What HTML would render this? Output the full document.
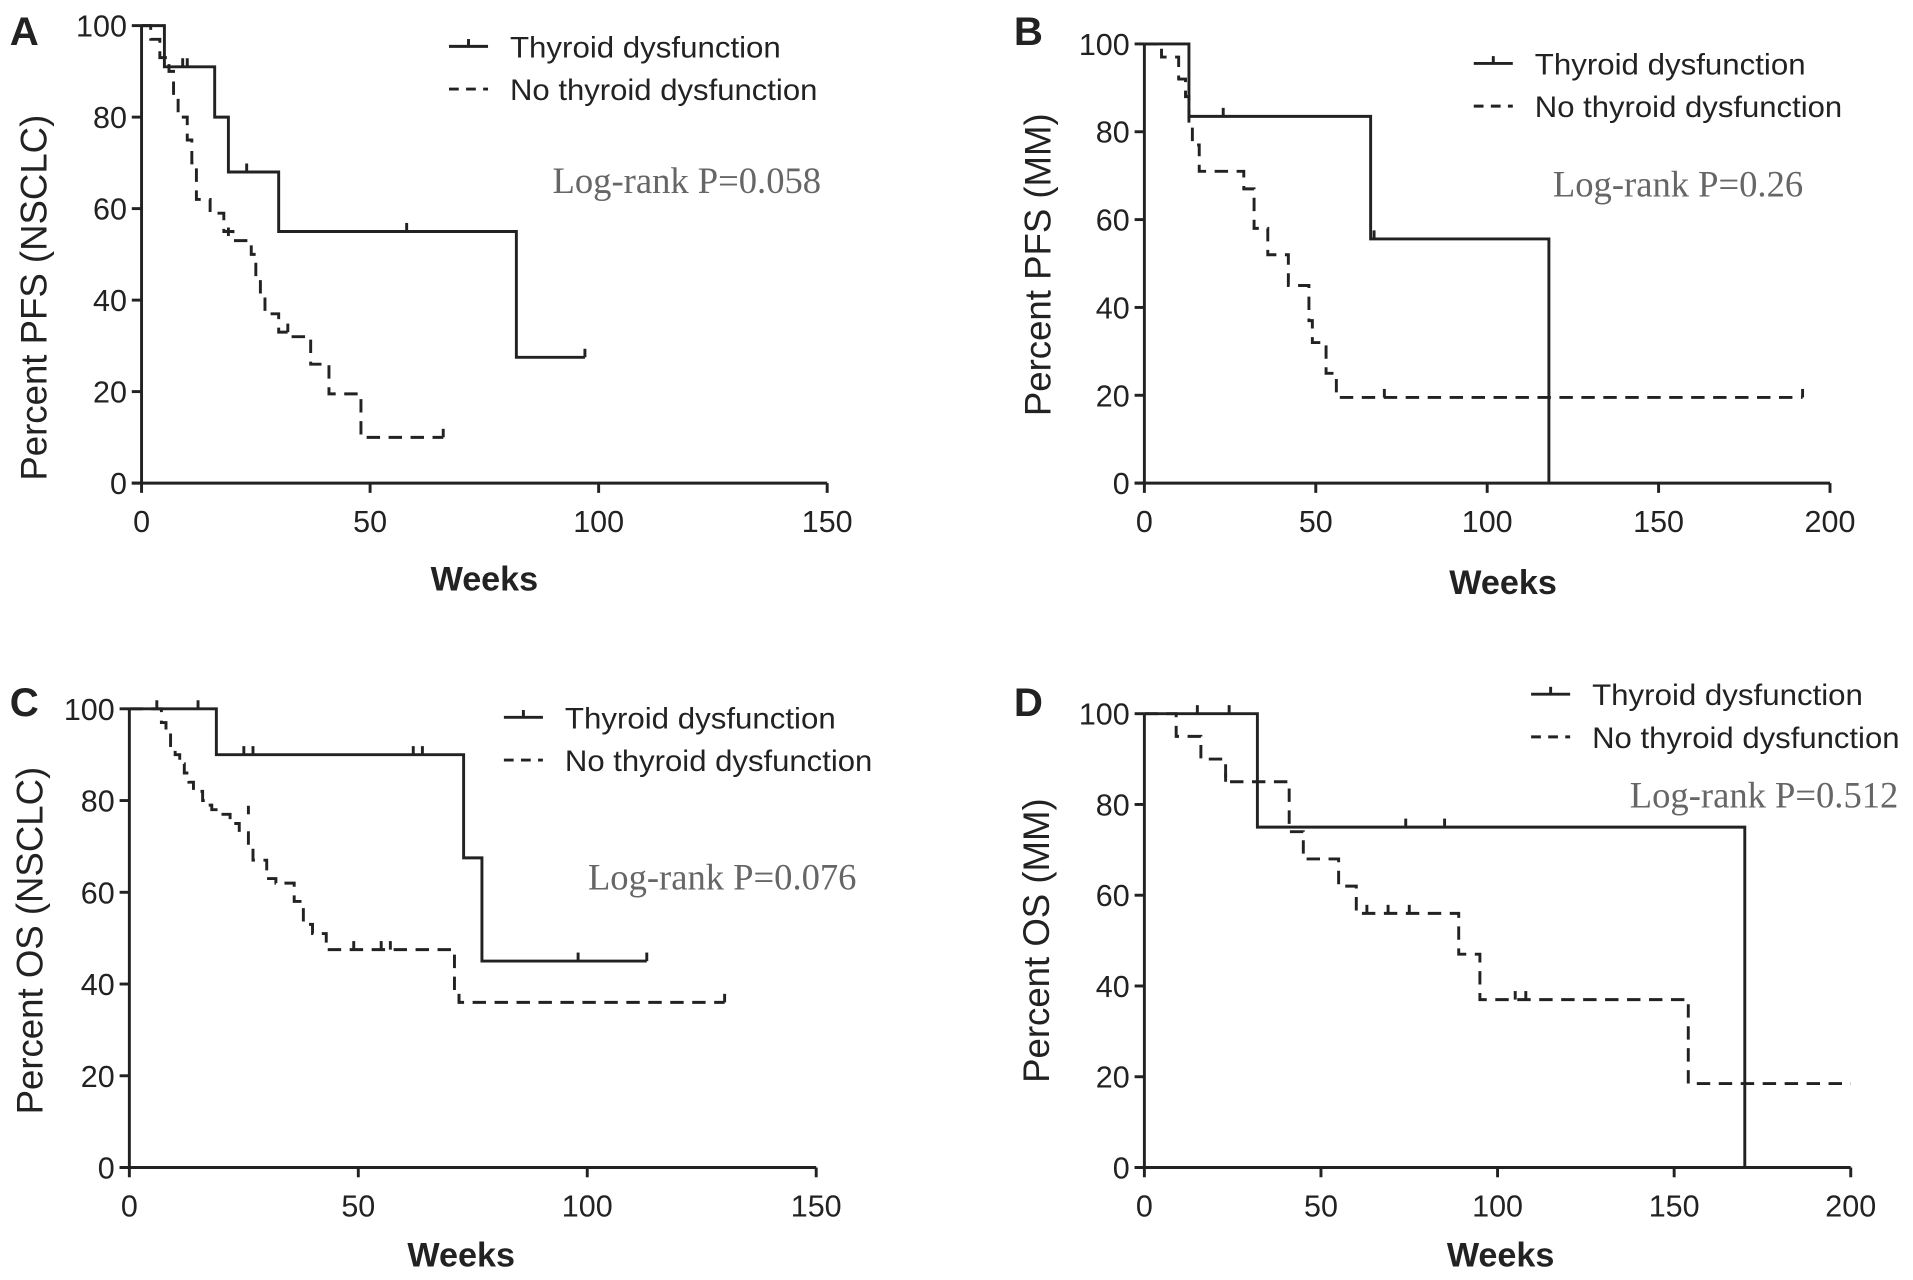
<!DOCTYPE html>
<html><head><meta charset="utf-8"><style>
html,body{margin:0;padding:0;background:#fff;}
svg{display:block;}
text{font-family:"Liberation Sans",sans-serif;fill:#222;}
</style></head><body>
<svg id="fig" width="1913" height="1280" viewBox="0 0 1568 1049.2" xmlns="http://www.w3.org/2000/svg"></svg>
<script>
// ---- Panel A data (PFS NSCLC) ----
const aSolidT=[5,16,19,30,82]; const aSolidS=[91,80,68,55,27.5]; const aSolidEnd=97;
const aSolidCensT=[9,23,58,97]; const aSolidCensS=[91,68,55,27.5];
const aDashT=[2,4,6,7,8,10,11,12,15,18,20,24,25,26,27,30,32,37,41,48]; const aDashS=[97,93,90,84,80,75,70,62,59,55,53,50,45,41,37,33,32,26,19.5,10]; const aDashEnd=66;
const aDashCensT=[10,19,32,66]; const aDashCensS=[91,54,33,10];
// ---- Panel B data (PFS MM) ----
const bSolidT=[13,66,118]; const bSolidS=[83.5,55.6,0]; const bSolidEnd=118;
const bSolidCensT=[23,67]; const bSolidCensS=[83.5,55.6];
const bDashT=[5,10,12,13,14,16,29,32,36,42,48,49,53,56]; const bDashS=[97,92,88,82,77,71,67,58,52,45,37,32,25,19.5]; const bDashEnd=192;
const bDashCensT=[70,192]; const bDashCensS=[19.5,19.5];
// ---- Panel C data (OS NSCLC) ----
const cSolidT=[19,73,77]; const cSolidS=[90,67.5,45]; const cSolidEnd=113;
const cSolidCensT=[6,15,25,27,62,64,98,113]; const cSolidCensS=[100,100,90,90,90,90,45,45];
const cDashT=[7,8,9,10,11,12,13,14,16,17,18,20,22,24,26,27,30,32,36,38,40,43,71,72]; const cDashS=[97,95,92,90,88,86,84,82,80,79,78,77,75,73,70,67,63,62,58,53,51,47.5,38,36]; const cDashEnd=130;
const cDashCensT=[26,49,55,57,72,130]; const cDashCensS=[77,47.5,47.5,47.5,36,36];
// ---- Panel D data (OS MM) ----
const dSolidT=[32,170]; const dSolidS=[75,0]; const dSolidEnd=170;
const dSolidCensT=[15,24,74,85]; const dSolidCensS=[100,100,75,75];
const dDashT=[9,16,23,41,45,55,60,89,95,154]; const dDashS=[95,90,85,74,68,62,56,47,37,18.5]; const dDashEnd=200;
const dDashCensT=[23,63,69,75,105,108]; const dDashCensS=[85,56,56,56,37,37];
// ---- axis ticks ----
const yTicks=[0,20,40,60,80,100];
const xTicksA=[0,50,100,150]; const xTicksB=[0,50,100,150,200];

const NS="http://www.w3.org/2000/svg";
const svg=document.getElementById('fig');
function mk(tag,attrs,parent){const e=document.createElementNS(NS,tag);for(const k in attrs)e.setAttribute(k,attrs[k]);(parent||svg).appendChild(e);return e;}
function txt(s,attrs,parent){const e=mk('text',attrs,parent);e.textContent=s;return e;}

function panel(cfg){
  const g=mk('g',{});
  
  
  const xS=v=>cfg.x0+(v/cfg.xmax)*(cfg.x1-cfg.x0);
  const yS=v=>cfg.y0+(v/100)*(cfg.y100-cfg.y0);
  const sw=2.4,col='#222';
  const ya=mk('line',{x1:cfg.x0,y1:cfg.y100,x2:cfg.x0,y2:cfg.y0,stroke:col,'stroke-width':sw},g);
  
  
  const xa=mk('line',{x1:cfg.x0-8,y1:cfg.y0,x2:cfg.x1,y2:cfg.y0,stroke:col,'stroke-width':sw},g);
  
  
  yTicks.forEach(v=>{
    mk('line',{x1:cfg.x0-8,x2:cfg.x0,y1:yS(v),y2:yS(v),stroke:col,'stroke-width':sw},g);
    const t=txt(String(v),{x:cfg.x0-12,y:yS(v)+9,'font-size':25,'text-anchor':'end'},g);
    
    
  });
  cfg.xticks.forEach(v=>{
    mk('line',{x1:xS(v),x2:xS(v),y1:cfg.y0,y2:cfg.y0+8,stroke:col,'stroke-width':sw},g);
    const t=txt(String(v),{x:xS(v),y:cfg.y0+40,'font-size':25,'text-anchor':'middle'},g);
    
    
  });
  function series(T,S,end,cT,cS,dashed,nm){
    let d='M'+xS(0)+','+yS(100);let cur=100;
    T.forEach((t,i)=>{d+=' L'+xS(t)+','+yS(cur)+' L'+xS(t)+','+yS(S[i]);cur=S[i];});
    if(end>T[T.length-1]) d+=' L'+xS(end)+','+yS(cur);
    const p=mk('path',{d:d,fill:'none',stroke:col,'stroke-width':sw,'stroke-dasharray':dashed?'11,7':'none'},g);
    
    
    cT.forEach((t,i)=>{
      const c=mk('line',{x1:xS(t),x2:xS(t),y1:yS(cS[i]),y2:yS(cS[i])-7,stroke:col,'stroke-width':sw},g);
      
      
    });
  }
  series(cfg.sT,cfg.sS,cfg.sEnd,cfg.sCT,cfg.sCS,false,'thyroid-dysfunction-curve');
  series(cfg.dT,cfg.dS,cfg.dEnd,cfg.dCT,cfg.dCS,true,'no-thyroid-dysfunction-curve');
  const lg=mk('g',{},g);
  
  
  mk('line',{x1:cfg.lx,x2:cfg.lx+32,y1:cfg.ly,y2:cfg.ly,stroke:col,'stroke-width':sw},lg);
  mk('line',{x1:cfg.lx+16,x2:cfg.lx+16,y1:cfg.ly,y2:cfg.ly-6,stroke:col,'stroke-width':sw},lg);
  mk('line',{x1:cfg.lx,x2:cfg.lx+32,y1:cfg.ly+35,y2:cfg.ly+35,stroke:col,'stroke-width':sw,'stroke-dasharray':'8,6'},lg);
  const l1=txt('Thyroid dysfunction',{x:cfg.lx+50,y:cfg.ly+9,'font-size':24,textLength:222,lengthAdjust:'spacingAndGlyphs',fill:'#333'},lg);
  
  
  const l2=txt('No thyroid dysfunction',{x:cfg.lx+50,y:cfg.ly+44,'font-size':24,textLength:252,lengthAdjust:'spacingAndGlyphs',fill:'#333'},lg);
  
  
  const pv=txt(cfg.p,{x:cfg.px,y:cfg.py,'font-size':30,'text-anchor':'end',style:'font-family:"Liberation Serif",serif;fill:#666'},g);
  
  
  const L=txt(cfg.letter,{x:cfg.lxL,y:cfg.lyL,'font-size':33,'font-weight':'bold',fill:'#111'},g);
  
  
  const xt=txt('Weeks',{x:cfg.xtx,y:cfg.xty,'font-size':28,'font-weight':'bold','text-anchor':'middle'},g);
  
  
  const yt=txt(cfg.ytitle,{x:0,y:0,'font-size':30,'text-anchor':'middle',transform:'translate('+cfg.ytx+','+cfg.yty+') rotate(-90)'},g);
  
  
}

panel({name:'panel-a',letter:'A',lxL:8,lyL:37,x0:116,x1:678,xmax:150,y0:396,y100:21,xticks:xTicksA,
 sT:aSolidT,sS:aSolidS,sEnd:aSolidEnd,sCT:aSolidCensT,sCS:aSolidCensS,dT:aDashT,dS:aDashS,dEnd:aDashEnd,dCT:aDashCensT,dCS:aDashCensS,
 lx:368,ly:38,p:'Log-rank P=0.058',px:673,py:158,xtx:397,xty:484,ytitle:'Percent PFS (NSCLC)',ytx:38,yty:244});
panel({name:'panel-b',letter:'B',lxL:831,lyL:37,x0:938,x1:1500,xmax:200,y0:396,y100:36,xticks:xTicksB,
 sT:bSolidT,sS:bSolidS,sEnd:bSolidEnd,sCT:bSolidCensT,sCS:bSolidCensS,dT:bDashT,dS:bDashS,dEnd:bDashEnd,dCT:bDashCensT,dCS:bDashCensS,
 lx:1208,ly:52,p:'Log-rank P=0.26',px:1478,py:161,xtx:1232,xty:487,ytitle:'Percent PFS (MM)',ytx:861,yty:217});
panel({name:'panel-c',letter:'C',lxL:8,lyL:587,x0:106,x1:669,xmax:150,y0:957,y100:581,xticks:xTicksA,
 sT:cSolidT,sS:cSolidS,sEnd:cSolidEnd,sCT:cSolidCensT,sCS:cSolidCensS,dT:cDashT,dS:cDashS,dEnd:cDashEnd,dCT:cDashCensT,dCS:cDashCensS,
 lx:413,ly:588,p:'Log-rank P=0.076',px:702,py:729,xtx:378,xty:1038,ytitle:'Percent OS (NSCLC)',ytx:35,yty:771});
panel({name:'panel-d',letter:'D',lxL:831,lyL:587,x0:938,x1:1517,xmax:200,y0:957,y100:585,xticks:xTicksB,
 sT:dSolidT,sS:dSolidS,sEnd:dSolidEnd,sCT:dSolidCensT,sCS:dSolidCensS,dT:dDashT,dS:dDashS,dEnd:dDashEnd,dCT:dDashCensT,dCS:dDashCensS,
 lx:1255,ly:569,p:'Log-rank P=0.512',px:1556,py:662,xtx:1230,xty:1038,ytitle:'Percent OS (MM)',ytx:860,yty:771});
</script>
</body></html>
